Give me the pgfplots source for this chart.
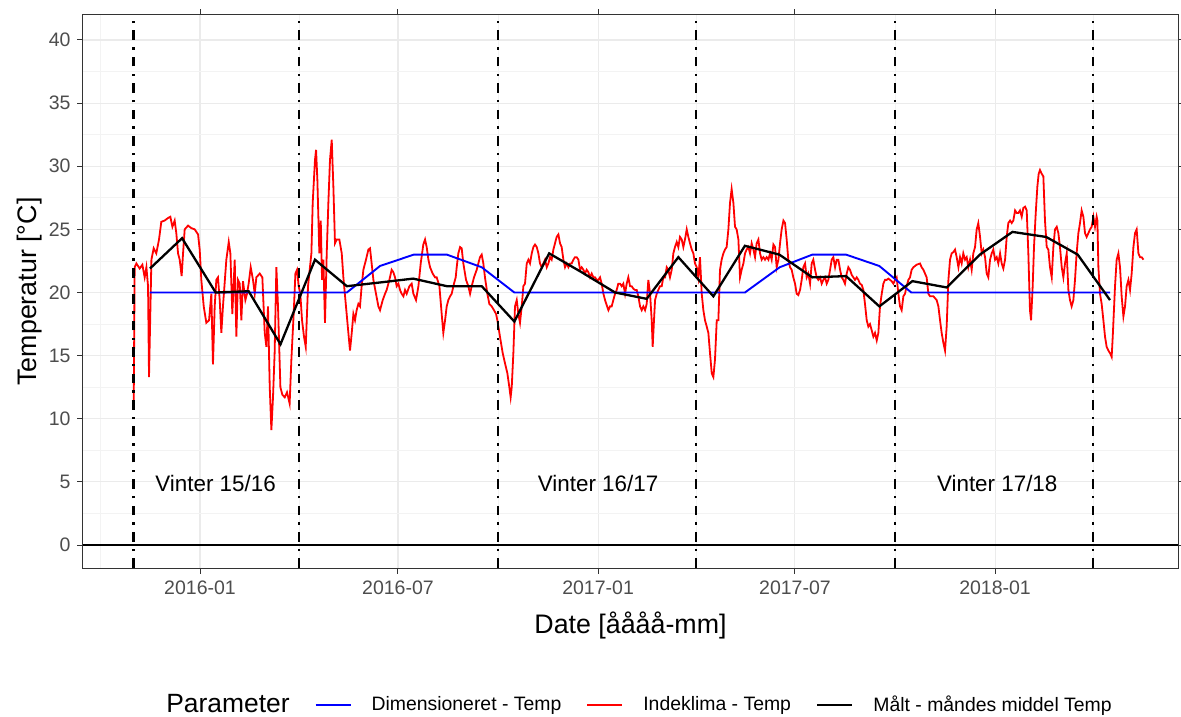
\documentclass[border=0pt]{standalone}
\usepackage{pgfplots}
\pgfplotsset{compat=1.18}
\usepackage{fontspec}
\setmainfont{Liberation Sans}
\definecolor{gridmaj}{HTML}{EBEBEB}
\definecolor{gridmin}{HTML}{F3F3F3}
\definecolor{tickc}{HTML}{4D4D4D}
\definecolor{bordc}{HTML}{333333}
\definecolor{myblue}{HTML}{0000FF}
\definecolor{myred}{HTML}{FF0000}
\pgfplotstableread{
x y
-61.0 10.7
-60.1 22.0
-58.5 22.3
-55.5 21.9
-53.0 22.2
-50.9 21.2
-49.3 22.0
-47.8 20.5
-46.9 13.3
-44.7 22.6
-42.6 23.5
-40.2 23.1
-37.7 24.2
-35.6 25.6
-32.5 25.7
-29.4 25.9
-27.3 26.0
-25.4 25.2
-23.3 25.7
-21.8 24.7
-20.2 23.1
-18.7 22.6
-16.9 21.3
-15.6 23.1
-14.1 25.0
-11.0 25.3
-8.0 25.1
-4.9 25.0
-1.8 24.6
-0.3 23.4
1.2 21.0
3.4 18.9
5.8 17.6
8.3 17.8
10.4 19.9
11.9 14.3
13.5 18.9
15.0 21.0
16.5 21.2
18.1 19.4
19.6 16.8
21.1 18.9
24.2 22.6
26.4 24.0
27.9 23.1
29.7 18.3
31.9 22.6
33.4 16.5
34.9 21.0
36.5 20.7
38.0 17.8
39.5 20.9
41.7 19.4
43.2 19.9
44.7 20.7
46.6 22.0
48.7 21.0
50.3 19.9
51.8 21.2
54.9 21.5
57.3 21.2
59.5 16.8
61.0 15.7
62.5 18.9
64.1 12.5
65.6 9.1
67.1 11.7
68.6 15.2
70.2 22.0
71.7 18.9
73.9 12.5
75.7 11.9
77.9 11.7
80.0 12.1
82.4 11.2
84.0 14.7
86.1 18.3
87.7 21.5
89.2 21.8
90.7 20.5
92.2 19.9
93.8 17.8
95.6 16.5
97.2 15.7
99.3 20.5
102.4 23.1
103.6 27.1
105.7 30.5
106.7 31.3
107.9 28.9
109.7 23.1
111.0 25.7
112.2 21.0
113.4 22.6
114.9 17.6
116.5 23.1
118.0 27.1
119.5 30.5
121.1 32.1
122.6 28.4
124.1 23.9
125.7 24.2
128.1 24.2
130.3 23.1
131.8 21.2
134.2 18.9
136.4 16.8
137.9 15.4
139.5 16.8
141.0 18.3
142.5 17.8
144.0 18.6
145.6 19.1
147.1 18.9
148.6 20.5
150.2 21.8
152.6 22.6
154.8 23.4
156.3 23.5
157.8 22.3
159.4 21.0
161.8 19.9
164.0 18.9
165.5 18.6
168.0 19.4
170.1 19.9
171.6 20.2
174.1 21.0
176.2 21.8
177.8 21.6
179.3 21.2
180.8 20.5
182.4 20.7
183.9 20.2
185.4 19.9
187.0 19.7
188.5 20.2
190.0 19.9
192.5 20.5
194.6 20.7
196.2 19.9
198.6 19.4
200.8 20.5
202.9 22.3
205.3 23.8
206.9 24.2
208.4 23.6
210.0 22.6
211.5 22.0
213.9 21.5
216.1 21.2
217.6 21.2
220.1 20.5
222.2 18.3
223.7 16.8
225.3 17.8
226.8 18.9
228.3 19.4
229.9 19.7
231.4 19.9
233.5 20.7
235.1 21.2
236.0 22.0
237.5 23.1
239.1 23.6
240.6 23.5
242.1 22.3
244.6 21.0
246.7 20.5
248.3 19.9
249.8 20.5
251.9 21.2
254.4 21.8
255.9 22.3
257.4 22.8
259.0 23.0
260.5 22.3
262.0 21.2
264.2 19.9
266.0 19.1
268.2 18.9
270.3 18.6
272.2 18.3
273.4 17.8
275.8 16.5
278.3 15.2
280.4 14.4
282.6 13.6
284.4 12.5
285.6 11.7
286.6 12.5
288.1 15.2
289.6 18.9
291.2 19.4
292.7 18.3
294.2 17.6
295.8 18.9
297.3 20.5
298.8 20.7
300.4 22.3
301.9 22.6
303.4 22.3
305.0 23.1
306.5 23.6
308.0 23.8
309.6 23.6
311.1 23.1
312.6 22.3
314.1 22.0
315.7 22.3
317.2 22.6
318.8 22.0
320.3 22.3
321.8 22.8
323.3 22.6
324.9 23.4
326.4 23.9
327.9 24.4
329.5 24.6
331.0 23.9
332.5 23.6
334.1 22.6
335.6 22.0
337.1 22.3
338.7 22.0
340.2 22.3
341.7 22.3
343.3 22.6
344.8 22.8
346.3 22.8
347.9 22.6
349.4 21.8
350.9 22.0
352.5 21.8
354.0 21.5
355.5 21.8
357.1 21.6
358.6 21.2
360.1 21.5
361.7 21.2
363.2 21.2
364.7 21.0
366.3 21.0
367.8 21.2
369.3 20.7
370.9 19.9
372.4 19.4
373.9 19.0
375.5 18.6
377.0 18.9
378.5 18.9
380.0 19.4
381.6 19.9
383.1 20.2
384.6 20.7
386.2 20.7
387.7 20.5
389.2 20.7
390.8 19.9
392.3 20.7
393.8 21.2
395.4 20.5
396.9 20.5
398.4 20.3
400.0 20.2
401.5 20.2
403.0 19.7
404.6 18.9
406.1 18.6
407.6 18.9
409.2 18.6
410.7 19.1
412.2 21.0
413.8 19.9
415.3 17.8
416.2 15.7
417.4 17.8
418.4 19.4
419.9 19.9
421.4 20.2
422.9 20.5
424.5 20.5
426.0 21.2
427.6 21.2
429.1 22.0
430.6 21.8
432.1 21.2
433.7 21.8
435.2 23.1
436.7 23.6
438.3 24.0
439.8 23.6
441.3 24.4
442.9 24.2
444.4 23.6
445.9 24.2
447.5 25.0
449.0 24.4
450.5 23.9
452.1 23.4
453.6 23.1
455.1 22.3
456.7 22.0
458.2 21.2
459.7 22.8
461.3 19.9
462.8 18.6
464.3 17.8
465.9 17.3
467.4 16.8
468.9 15.2
470.5 13.6
472.0 13.3
473.5 14.7
475.1 17.8
476.6 17.8
478.1 21.8
479.6 22.6
481.2 23.1
482.7 23.4
484.2 23.6
485.8 25.0
487.3 27.1
488.8 28.2
490.4 27.1
491.9 25.2
493.4 25.0
495.0 24.2
496.5 21.2
498.0 21.8
499.6 22.3
501.1 23.1
502.6 23.4
504.2 23.6
505.7 23.1
507.2 23.9
508.8 23.4
510.3 22.8
511.8 23.9
513.4 24.2
514.9 23.1
516.4 22.6
518.0 22.8
519.5 22.6
521.0 22.8
522.6 22.6
524.1 23.1
525.6 22.6
527.2 23.8
528.7 23.6
530.2 22.0
531.8 22.6
533.3 23.9
534.8 25.0
536.4 25.7
537.9 25.5
539.4 24.2
540.9 22.6
542.5 22.0
544.0 21.8
545.5 21.2
547.1 20.7
548.6 19.9
550.1 19.8
551.7 20.2
553.2 21.0
554.7 22.0
556.3 22.3
557.8 21.2
559.3 21.5
560.9 20.7
562.4 22.3
563.9 22.6
565.5 21.8
567.0 21.2
568.5 21.0
570.1 21.2
571.6 20.7
573.1 21.0
574.7 21.2
576.2 20.7
577.7 21.0
579.3 21.8
580.8 22.6
582.3 22.8
583.9 22.0
585.4 22.6
586.9 22.6
588.5 21.8
590.0 21.2
591.5 21.0
593.0 20.7
594.6 21.5
596.1 22.0
597.6 21.8
599.2 21.4
600.7 21.2
602.2 21.0
603.8 21.2
605.3 21.0
606.8 20.7
608.4 20.6
609.9 20.2
611.4 19.1
613.0 17.8
614.5 17.3
616.0 17.5
617.6 17.0
619.1 16.5
620.6 16.8
622.2 16.2
623.7 16.8
625.2 18.9
626.8 19.9
628.3 20.7
629.8 21.0
631.4 21.0
632.9 21.1
634.4 21.0
635.9 20.9
637.5 20.7
639.0 21.0
640.5 21.2
642.1 19.9
643.6 18.9
645.1 18.6
646.7 19.7
648.2 19.9
649.7 20.5
651.3 21.0
652.8 21.2
654.3 21.8
655.9 22.0
658.9 22.2
662.0 22.3
663.5 22.0
665.1 21.8
666.6 21.5
668.1 21.2
669.7 19.9
671.2 19.7
674.3 19.7
677.3 19.4
678.9 18.9
680.4 17.8
681.9 16.8
683.5 16.0
685.0 15.4
686.5 17.3
688.1 21.0
689.6 22.6
691.1 23.1
692.7 23.2
694.2 23.4
695.7 22.8
697.3 22.0
698.8 22.8
700.3 22.3
701.8 23.1
703.4 22.6
704.9 22.8
706.4 22.0
708.0 22.6
709.5 21.8
711.0 23.1
712.6 23.6
714.1 25.0
715.6 25.5
717.2 24.4
718.7 23.1
720.2 23.4
721.8 22.8
723.3 21.5
724.8 21.2
726.4 22.6
727.9 23.1
729.4 23.4
731.0 22.6
732.5 22.8
734.0 22.3
735.6 23.1
737.1 22.3
738.6 21.9
740.2 22.6
741.7 24.4
743.2 25.5
744.8 25.7
746.3 25.5
747.8 25.7
749.4 26.5
750.9 26.3
752.4 26.3
753.9 26.5
755.5 26.0
757.0 26.7
758.6 26.8
760.1 26.5
761.6 23.1
763.1 18.6
764.1 17.8
765.6 20.5
766.8 23.6
768.4 26.3
769.9 28.4
771.1 29.4
772.3 29.7
773.9 29.4
775.4 29.2
776.9 25.7
778.5 23.6
780.0 23.4
781.5 22.0
783.1 21.2
784.6 23.6
786.1 25.0
787.7 25.2
789.2 24.7
790.7 23.6
792.3 22.0
793.8 21.2
795.3 22.3
796.9 23.1
798.4 20.2
799.9 19.4
801.4 18.9
803.0 19.4
804.5 21.0
806.0 23.1
807.6 24.7
809.1 25.5
810.6 26.5
812.2 26.0
813.7 24.7
815.2 24.4
816.8 24.7
818.3 25.0
819.8 25.2
821.4 26.0
822.9 25.2
824.4 26.0
825.1 25.7
826.0 22.0
827.5 19.9
829.0 19.1
830.6 17.8
832.1 16.5
833.6 15.7
835.2 15.4
836.7 15.2
838.2 14.9
839.2 16.5
841.3 20.5
842.8 22.6
844.4 23.1
845.9 22.0
847.4 19.7
849.0 18.1
850.5 18.9
852.0 20.5
853.6 21.0
855.1 20.2
856.6 21.5
858.2 23.6
859.7 24.7
861.2 25.0
862.8 23.1
864.3 22.8
865.8 22.8
867.4 22.6
}\indeklima
\pgfplotstableread{
x y
-46.0 21.9
-16.5 24.3
14.4 20.0
44.7 20.1
74.0 15.9
105.7 22.6
135.0 20.5
166.0 20.8
196.0 21.1
227.0 20.5
259.0 20.5
289.0 17.7
321.0 23.1
351.0 21.6
381.6 20.0
410.7 19.5
439.8 22.8
472.0 19.7
501.0 23.7
532.7 23.0
563.0 21.2
594.0 21.3
624.6 18.9
655.0 20.9
686.5 20.4
717.0 23.0
747.0 24.8
778.0 24.4
807.0 23.0
836.7 19.4
}\maalt
\pgfplotstableread{
x y
-46.0 20.0
105.7 20.0
135.0 20.0
165.5 22.1
196.5 23.0
227.0 23.0
259.0 22.0
289.0 20.0
501.0 20.0
533.0 22.0
563.0 23.0
594.0 23.0
624.6 22.1
654.0 20.0
836.7 20.0
}\dimens
\begin{document}
\begin{tikzpicture}
\path[use as bounding box] (-41.5bp,-74.5bp) rectangle (549bp,284bp);
\begin{axis}[
 scale only axis, width=547.5bp, height=276.5bp,
 xmin=-107.6, xmax=899.2, ymin=-1.82, ymax=41.98,
 xtick={0,182,366,547,731},
 xticklabels={2016-01,2016-07,2017-01,2017-07,2018-01},
 minor xtick={-91.5,91,274,456.5,639,821},
 ytick={0,5,...,40},
 minor ytick={2.5,7.5,...,37.5},
 grid=both,
 major grid style={gridmaj, line width=0.55bp},
 minor grid style={gridmin, line width=0.35bp},
 tick align=outside,
 major tick length=2.75bp,
 minor tick length=0pt,
 tick style={bordc, line width=0.5bp},
 axis line style={bordc, line width=0.5bp},
 tick label style={font=\fontsize{9.75bp}{11bp}\selectfont, text=tickc},
 /pgf/number format/assume math mode=true,
 xlabel={Date [åååå-mm]},
 ylabel={Temperatur [°C]},
 label style={font=\fontsize{13.4bp}{15bp}\selectfont},
 xlabel style={at={(axis description cs:0.5,-0.1031)}, anchor=center},
 ylabel style={at={(axis description cs:-0.0484,0.5)}, anchor=center},
 legend columns=4,
 legend cell align=left,
 legend image code/.code={\draw[#1] (0bp,0bp) -- (17.5bp,0bp);},
 legend style={at={(0.5078,-0.2477)}, anchor=center, draw=none, fill=none,
   font=\fontsize{9.7bp}{11bp}\selectfont,
   /tikz/every even column/.append style={column sep=10.5bp}},
]
\addlegendimage{empty legend}
\addlegendentry{\fontsize{13.2bp}{15bp}\selectfont Parameter\hspace{-5bp}}
\addlegendimage{myblue, line width=1bp}
\addlegendentry{\hspace{8bp}Dimensioneret - Temp}
\addlegendimage{myred, line width=1bp}
\addlegendentry{\hspace{8bp}Indeklima - Temp}
\addlegendimage{black, line width=1.2bp}
\addlegendentry{\hspace{8bp}Målt - måndes middel Temp}

\addplot[myred, line width=0.9bp, forget plot] table {\indeklima};
\addplot[myblue, line width=0.95bp, forget plot] table {\dimens};
\addplot[black, line width=1.15bp, forget plot] table {\maalt};

\addplot[black, line width=0.9bp, forget plot] coordinates {(-107.6,0) (899.2,0)};
\foreach \d in {-61,91,274,456,639,821}{
 \edef\temp{\noexpand\addplot[black, line width=1.2bp, dash pattern=on 4.8bp off 3.6bp on 1.2bp off 3.6bp, forget plot] coordinates {(\d,-1.82) (\d,41.98)};}
 \temp
}
\node[font=\fontsize{11.2bp}{13bp}\selectfont] at (axis cs:14.3,4.9) {Vinter 15/16};
\node[font=\fontsize{11.2bp}{13bp}\selectfont] at (axis cs:366,4.9) {Vinter 16/17};
\node[font=\fontsize{11.2bp}{13bp}\selectfont] at (axis cs:733,4.9) {Vinter 17/18};
\end{axis}
\end{tikzpicture}
\end{document}
